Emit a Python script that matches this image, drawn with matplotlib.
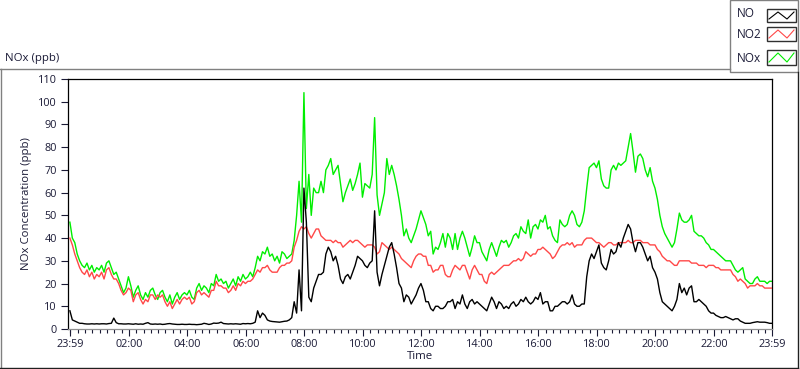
import matplotlib
matplotlib.use('Agg')
import matplotlib.pyplot as plt
from matplotlib.lines import Line2D
from matplotlib.patches import Rectangle

W, H = 800, 369

# ---------------- data (5-minute readings, starting 23:59) ----------------
series_names = ['NO', 'NO2', 'NOx']
series_colors = ['#000000', '#ff4848', '#00ee00']

no = [
    8, 4, 3.5, 3, 2.5, 2.5, 2.3, 2.2, 2.2, 2.3, 2.2, 2.3,
    2.2, 2.3, 2.3, 2.2, 2.4, 2.5, 4.8, 2.8, 2.3, 2.3, 2.2, 2.2,
    2.3, 2.2, 2.1, 2.3, 2.1, 2.2, 2.1, 2.5, 2.8, 2.2, 2.1, 2.2,
    2.1, 2.2, 2.0, 2.1, 2.3, 2.4, 2.2, 2.1, 2.0, 2.0, 2.1, 2.0,
    2.0, 2.1, 2.0, 2.0, 1.9, 2.0, 2.1, 2.5, 2.3, 2.0, 2.2, 2.6,
    2.5, 2.6, 3.0, 2.4, 2.3, 2.2, 2.3, 2.2, 2.3, 2.2, 2.1, 2.4,
    2.3, 2.4, 2.3, 2.5, 3.0, 8.0, 5.0, 7.0, 6.0, 4.0, 3.5, 3.3,
    3.2, 3.1, 3.0, 3.2, 3.4, 3.5, 4.0, 5.0, 12, 7, 26, 8,
    62, 47, 14, 12, 18, 21, 24, 24, 25, 33, 36, 34,
    30, 32, 28, 22, 20, 23, 24, 22, 25, 28, 32, 31,
    30, 28, 27, 29, 30, 52, 25, 19, 24, 28, 32, 36,
    38, 33, 27, 20, 18, 12, 15, 14, 11, 13, 15, 18,
    20, 17, 12, 12, 9, 8, 10, 10, 9, 9, 10, 12,
    12, 13, 9, 12, 11, 15, 11, 9, 12, 13, 11, 12,
    11, 10, 9, 8, 11, 14, 12, 9, 12, 11, 9, 10,
    9, 11, 12, 10, 11, 13, 12, 14, 12, 11, 12, 14,
    13, 16, 11, 12, 12, 8, 8, 10, 10, 11, 12, 12,
    11, 12, 15, 11, 10, 10, 11, 11, 23, 30, 33, 31,
    34, 37, 29, 27, 26, 30, 35, 33, 34, 38, 36, 40,
    43, 46, 44, 38, 34, 38, 38, 36, 33, 30, 32, 27,
    25, 22, 16, 12, 11, 10, 9, 8, 10, 13, 20, 16,
    18, 15, 18, 19, 12, 12, 13, 12, 11, 10, 8, 7,
    7, 6, 5.5, 5, 5, 5.5, 5, 4.5, 4, 4.5, 4.5, 3.5,
    3, 2.5, 2.5, 2.5, 2.8, 3, 3.2, 3, 3, 3, 2.8, 2.5, 2.5,
]

no2 = [
    40, 37, 33, 30, 27, 25, 24, 26, 23, 25, 22, 24,
    23, 25, 22, 26, 27, 24, 22, 22, 20, 17, 15, 16,
    18, 17, 12, 15, 16, 13, 11, 13, 12, 15, 15, 13,
    15, 14, 15, 12, 10, 12, 9, 11, 13, 11, 13, 14,
    13, 14, 11, 12, 16, 17, 15, 16, 15, 14, 17, 17,
    21, 19, 19, 18, 18, 16, 17, 19, 17, 20, 19, 21,
    20, 21, 21, 22, 24, 26, 25, 27, 27, 28, 26, 25,
    25, 25, 27, 28, 28, 29, 29, 30, 36, 39, 43, 45,
    44, 45, 42, 40, 42, 44, 44, 41, 40, 39, 39, 39,
    38, 39, 38, 38, 36, 37, 38, 39, 38, 39, 39, 38,
    37, 36, 37, 37, 37, 36, 33, 34, 38, 37, 36, 35,
    36, 35, 34, 33, 31, 30, 29, 28, 27, 30, 32, 33,
    33, 32, 32, 28, 28, 25, 26, 26, 28, 28, 24, 23,
    23, 26, 28, 27, 26, 28, 28, 25, 22, 26, 28, 26,
    24, 24, 21, 20, 24, 25, 24, 25, 26, 27, 28, 28,
    28, 29, 30, 30, 31, 30, 31, 34, 33, 32, 33, 33,
    35, 35, 36, 35, 34, 33, 31, 32, 34, 36, 37, 37,
    38, 37, 38, 36, 37, 37, 37, 39, 40, 40, 40, 39,
    38, 38, 37, 36, 37, 38, 38, 37, 37, 38, 38, 38,
    38, 39, 38, 38, 39, 39, 39, 38, 38, 38, 37, 37,
    37, 35, 34, 32, 31, 30, 30, 29, 28, 28, 30, 30,
    30, 30, 30, 29, 29, 29, 28, 28, 28, 27, 28, 28,
    28, 27, 27, 26, 26, 26, 26, 26, 24, 23, 21, 22,
    21, 20, 18, 19, 19, 19, 20, 19, 19, 18, 18, 18, 18,
]

nox = [
    47, 40, 38, 33, 30, 28, 27, 29, 26, 28, 25, 27,
    26, 28, 25, 29, 30, 27, 24, 25, 22, 19, 16, 18,
    23, 19, 14, 17, 19, 15, 13, 16, 14, 17, 18, 15,
    13, 16, 17, 14, 12, 15, 11, 14, 16, 13, 15, 16,
    15, 17, 14, 13, 18, 20, 17, 19, 18, 16, 20, 19,
    24, 21, 22, 20, 21, 18, 20, 22, 19, 23, 21, 24,
    22, 23, 25, 23, 27, 32, 30, 34, 33, 36, 32, 33,
    30, 32, 29, 34, 33, 31, 32, 33, 39, 50, 65, 47,
    104, 53, 68, 50, 62, 60, 60, 65, 60, 70, 72, 75,
    68, 70, 72, 64, 56, 60, 63, 66, 61, 64, 68, 73,
    58, 64, 63, 62, 68, 93, 59, 50, 55, 60, 75, 68,
    72, 68, 63, 57, 50, 41, 44, 40, 38, 41, 44, 48,
    52, 49, 46, 41, 43, 33, 36, 35, 38, 42, 36, 42,
    40, 35, 42, 35, 40, 43, 40, 36, 32, 36, 41, 38,
    38, 34, 32, 30, 35, 38, 35, 32, 36, 39, 38, 39,
    36, 38, 41, 42, 40, 45, 43, 42, 48, 40, 45, 46,
    44, 48, 47, 50, 44, 45, 41, 39, 38, 48, 46, 45,
    46, 50, 52, 50, 46, 45, 47, 52, 62, 71, 72, 73,
    71, 74, 66, 63, 62, 62, 70, 72, 70, 73, 72, 73,
    74, 80, 86, 78, 69, 76, 77, 75, 70, 67, 71, 65,
    62, 57, 50, 45, 42, 40, 38, 36, 38, 44, 51, 48,
    47, 47, 48, 50, 43, 42, 41, 41, 40, 38, 37, 35,
    35, 34, 33, 32, 31, 30, 30, 30, 28, 26, 25, 26,
    27, 22, 21, 20, 20, 22, 23, 21, 21, 21, 20, 21, 21,
]

start_minute = -1          # 23:59 of the previous day
step_minutes = 5
times_h = [(start_minute + i * step_minutes) / 60.0 for i in range(len(no))]

xtick_pos = [-1 / 60, 2, 4, 6, 8, 10, 12, 14, 16, 18, 20, 22, 23 + 59 / 60]
xtick_labels = ['23:59', '02:00', '04:00', '06:00', '08:00', '10:00', '12:00',
                '14:00', '16:00', '18:00', '20:00', '22:00', '23:59']
yticks = list(range(0, 111, 10))

# ---------------- figure ----------------
plt.rcParams['font.family'] = ['Open Sans', 'DejaVu Sans']
txt_color = '#1a1a36'

fig = plt.figure(figsize=(W / 100, H / 100), dpi=100)
fig.patch.set_facecolor('white')

def fx(px):
    return px / W

def fy(py):
    return 1 - py / H

ax_l, ax_r, ax_t, ax_b = 68, 772, 79, 329
ax = fig.add_axes([fx(ax_l), fy(ax_b), fx(ax_r) - fx(ax_l), fy(ax_t) - fy(ax_b)])
ax.set_facecolor('white')

data = [no, no2, nox]
for vals, col, z in zip(data[::-1], series_colors[::-1], [2, 3, 4]):
    ax.plot(times_h, vals, color=col, lw=1.0, zorder=z)

ax.set_xlim(-1 / 60 - 0.065, 23 + 59 / 60)
ax.set_ylim(0, 110)
ax.set_xticks(xtick_pos)
ax.set_xticklabels(xtick_labels)
minor = [q / 4 for q in range(0, 96)]
ax.set_xticks(minor, minor=True)
ax.set_yticks(yticks)

for s in ['left', 'top', 'right']:
    ax.spines[s].set_color('black')
    ax.spines[s].set_linewidth(0.9)
ax.spines['bottom'].set_color('#909090')
ax.spines['bottom'].set_linewidth(0.9)

ax.tick_params(axis='both', which='major', labelsize=7.8, colors=txt_color,
               direction='out', length=5, width=0.8, pad=2)
ax.tick_params(axis='x', which='minor', direction='out', length=3, width=0.8,
               color=txt_color)
ax.tick_params(axis='y', which='major', pad=3)

ax.set_xlabel('Time', fontsize=8.2, color=txt_color, labelpad=1)
ax.set_ylabel('NOx Concentration (ppb)', fontsize=8.2, color=txt_color, labelpad=4)

# title of the graph panel
fig.text(fx(5), fy(59), 'NOx (ppb)', fontsize=8.2, color=txt_color,
         ha='left', va='center')

# outer panel frame
frame = [
    ((0, 69), (730, 69), '#808080'),
    ((0.5, 69), (0.5, 368), '#808080'),
    ((0, 368), (798, 368), '#202020'),
    ((798, 72), (798, 368), '#202020'),
]
for (x0, y0), (x1, y1), c in frame:
    fig.add_artist(Line2D([fx(x0), fx(x1)], [fy(y0), fy(y1)], color=c, lw=1.0,
                          transform=fig.transFigure))

# legend panel
fig.add_artist(Rectangle((fx(730), fy(72)), fx(798) - fx(730), fy(0) - fy(72),
                         transform=fig.transFigure, facecolor='white',
                         edgecolor='#808080', lw=1.0))
leg_text_y = [13.5, 35, 58.5]
leg_box = [(9, 22), (27, 41), (50, 65)]
for name, col, ty, (b0, b1) in zip(series_names, series_colors, leg_text_y, leg_box):
    fig.text(fx(737), fy(ty), name, fontsize=8.5, color=txt_color,
             ha='left', va='center')
    fig.add_artist(Rectangle((fx(767), fy(b1)), fx(796) - fx(767), fy(b0) - fy(b1),
                             transform=fig.transFigure, facecolor='white',
                             edgecolor='#303030', lw=1.0))
    zx = [769, 778, 787, 794]
    zy = [b1 - 3, b0 + 3, b1 - 3, b0 + 3]
    fig.add_artist(Line2D([fx(v) for v in zx], [fy(v) for v in zy], color=col,
                          lw=0.8, transform=fig.transFigure))

fig.savefig('out.png', dpi=100)
